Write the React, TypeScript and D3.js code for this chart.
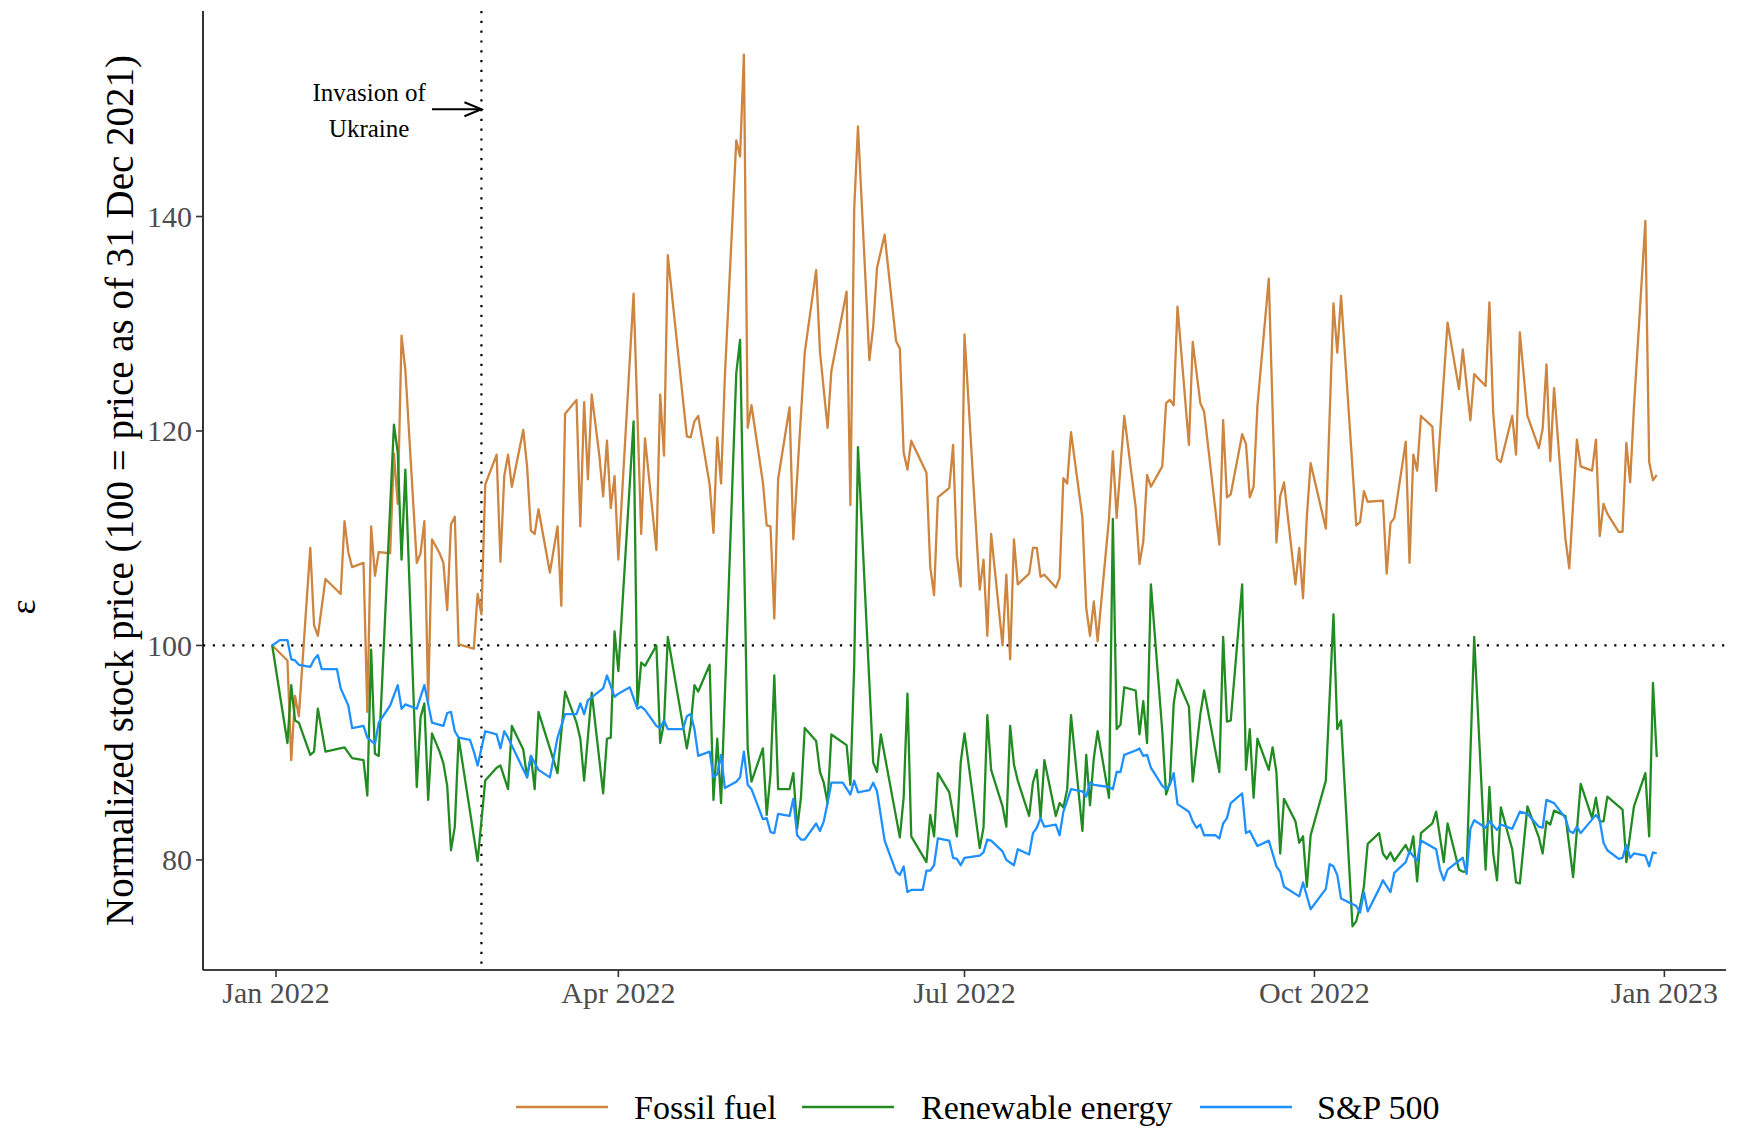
import React from 'react';
import * as d3 from 'd3';

// Day offsets are days since 2022-01-01; values are normalized prices (100 = 31 Dec 2021)
const fossilDays = [-1,3,4,5,6,9,10,11,13,17,18,19,20,23,24,25,26,27,30,31,32,33,34,37,38,39,40,41,43,44,45,46,47,48,52,53,54,55,58,59,60,61,62,65,66,67,68,69,72,74,75,76,79,80,81,82,83,85,86,87,88,89,90,94,96,97,100,101,102,103,108,109,110,111,114,115,116,117,118,121,122,123,124,125,128,129,130,131,132,135,136,139,142,143,145,146,150,151,152,153,156,157,158,160,163,164,165,166,167,171,172,173,174,177,178,179,180,181,185,186,187,188,191,192,193,194,195,198,199,200,201,202,205,206,207,208,209,212,213,214,215,216,219,220,221,223,226,227,228,229,230,233,234,235,236,237,240,241,243,244,248,249,250,251,254,255,256,257,258,261,263,264,265,268,269,270,271,272,276,278,279,280,284,285,286,287,291,292,293,294,297,298,299,300,301,304,305,308,311,312,314,315,318,319,320,321,322,325,326,327,329,332,333,334,335,336,339,340,342,343,346,347,348,349,350,353,354,355,356,357,360,361,362,363];
const fossilValues = [100,98.6,89.3,95.3,93.4,109.1,101.9,100.9,106.2,104.8,111.6,108.7,107.3,107.7,93.8,111.1,106.5,108.7,108.6,117.9,113.2,128.9,125.7,107.7,108.6,111.6,94.8,109.9,108.6,107.7,103.3,111.3,112.0,100.1,99.7,104.8,102.9,115.0,117.8,107.8,115.8,117.8,114.8,120.1,116.7,110.7,110.4,112.7,106.8,111.1,103.7,121.6,122.9,111.1,122.7,115.5,123.4,117.7,113.9,119.1,112.8,115.8,108.0,132.8,110.4,119.3,108.9,123.4,117.7,136.4,119.5,119.4,120.9,121.4,115.0,110.5,119.4,115.1,125.1,147.1,145.6,155.1,120.3,122.4,115.2,111.2,111.1,102.5,115.5,122.2,109.9,127.3,135.0,127.4,120.3,125.6,133.0,113.1,140.7,148.4,126.6,129.7,135.2,138.3,128.4,127.7,118.0,116.4,119.1,116.1,107.3,104.7,113.8,114.7,118.7,108.4,105.5,129.0,105.2,108.0,100.9,110.4,100.0,106.6,98.7,109.9,105.7,106.7,109.1,109.1,106.4,106.6,105.4,106.3,115.6,115.1,119.9,111.9,103.5,100.9,104.1,100.4,111.9,118.1,111.9,121.4,112.9,107.6,109.7,115.9,114.8,116.7,122.6,122.9,122.4,131.6,118.7,128.3,122.6,121.8,109.4,121.0,113.8,114.1,119.7,118.8,113.8,114.8,122.3,134.2,109.6,113.9,115.2,105.7,109.1,104.4,112.0,117.0,110.9,131.9,127.3,132.6,111.2,111.5,114.4,113.4,113.5,106.7,111.4,111.9,119.0,107.7,117.8,116.3,121.4,120.4,114.4,130.1,123.9,127.6,121.0,125.3,124.2,132.0,121.7,117.4,117.1,121.4,117.8,129.2,121.4,118.4,120.2,126.2,117.2,124.0,109.9,107.2,119.2,116.7,116.3,119.2,110.2,113.2,112.3,110.6,110.6,118.9,115.2,122.2,139.6,117.1,115.4,115.9];

const renewableDays = [-1,3,4,5,6,9,10,11,13,18,20,23,24,25,26,27,31,32,33,34,37,38,39,40,41,43,44,45,46,47,48,53,55,58,59,61,62,65,66,67,68,69,72,74,76,79,80,81,83,86,87,88,89,90,94,95,96,97,100,101,102,103,108,109,110,111,114,115,116,117,121,122,124,125,128,129,130,131,132,135,136,137,138,139,142,143,144,145,146,150,151,152,153,157,158,159,164,165,166,167,171,172,173,174,177,179,180,181,185,186,187,188,191,192,193,194,195,198,199,200,201,202,205,206,207,208,209,212,213,214,215,216,219,220,221,222,223,226,227,228,229,230,233,234,235,236,237,240,241,243,244,248,249,250,251,254,255,256,257,258,261,262,263,264,265,268,269,270,271,272,276,278,279,280,283,284,285,286,287,290,291,292,293,294,297,298,299,300,301,304,305,307,308,311,312,313,315,318,319,320,321,322,325,326,327,329,332,333,334,335,336,339,340,341,343,346,347,348,349,350,354,355,357,360,361,362,363];
const renewableValues = [100,90.9,96.3,93.0,92.8,89.8,90.1,94.1,90.1,90.5,89.5,89.3,86.0,99.6,89.9,89.7,120.6,118.0,108.0,116.4,86.8,93.3,94.6,85.6,91.8,90.1,89.0,86.9,80.9,83.1,91.4,79.9,87.4,88.6,88.8,86.6,92.5,90.3,87.7,89.7,86.6,93.8,90.4,88.1,95.7,92.8,91.3,87.4,95.6,86.2,91.3,91.4,101.3,97.6,120.9,94.4,98.4,98.1,100.0,90.9,92.8,100.8,90.4,92.5,96.3,95.7,98.2,85.6,91.3,85.3,125.4,128.5,90.4,87.3,90.4,84.2,88.0,97.2,86.6,86.6,88.1,82.9,85.8,92.3,91.1,88.2,87.2,85.3,91.7,90.7,87.0,98.1,118.5,89.1,88.2,91.7,82.1,85.8,95.5,82.2,79.8,84.2,82.2,88.1,86.3,82.2,89.1,91.8,81.1,83.0,93.5,88.4,85.0,83.1,92.5,88.9,87.4,84.1,87.2,88.4,83.9,89.3,84.1,85.3,84.9,86.6,93.5,82.7,89.8,85.1,89.5,92.0,85.8,111.8,92.2,92.6,96.1,95.8,91.7,94.8,90.9,105.7,92.0,86.1,87.2,94.6,96.8,94.3,87.3,93.6,95.8,88.2,100.8,92.9,93.0,105.7,88.4,92.2,85.8,91.3,88.4,90.5,88.2,80.6,85.7,83.6,81.6,82.2,77.5,82.3,87.4,102.9,92.2,93.0,73.8,74.3,75.7,77.5,81.5,82.5,80.6,80.1,80.7,79.9,81.4,80.6,82.2,78.0,82.5,83.4,84.5,79.8,83.4,79.1,78.9,78.9,100.8,79.1,86.8,80.6,78.1,84.9,81.0,77.9,77.8,85.0,82.1,80.6,83.6,83.3,84.6,84.1,81.3,78.4,87.1,83.9,85.8,83.6,83.6,85.9,84.7,79.8,85.0,88.1,82.2,96.5,89.6];

const spDays = [-1,1,3,4,5,6,9,10,11,12,16,17,19,20,23,24,26,27,30,32,33,34,37,39,41,44,45,46,47,48,51,52,53,55,58,59,60,61,66,67,69,72,74,76,79,80,81,82,86,87,89,90,93,95,96,97,100,101,102,103,107,108,109,110,111,114,115,116,117,118,121,122,123,124,125,128,129,130,131,132,135,136,137,138,139,142,143,144,145,146,149,151,152,153,156,157,158,160,163,164,165,166,167,170,171,172,173,174,177,178,179,180,181,185,186,187,188,191,192,194,195,198,199,200,201,202,205,206,207,209,212,213,214,215,219,220,221,222,223,226,227,228,229,230,233,234,235,236,237,240,241,242,243,244,247,248,249,250,251,254,255,256,258,261,263,264,265,269,270,272,276,277,278,279,280,284,285,286,287,290,291,293,294,297,298,300,301,305,306,307,308,312,313,314,315,318,319,321,322,325,327,329,332,333,334,336,339,340,341,342,343,347,348,349,350,353,354,355,356,357,360,361,362,363];
const spValues = [100,100.5,100.5,98.7,98.6,98.2,98.0,98.7,99.1,97.8,97.8,96.0,94.4,92.3,92.5,91.4,90.8,92.8,94.4,96.3,94.1,94.5,94.1,96.3,92.8,92.5,93.7,93.8,92.0,91.4,91.2,90.1,88.8,92.0,91.7,90.4,92.0,91.4,87.7,89.7,88.4,87.7,91.4,93.6,93.6,94.6,93.6,94.9,96.0,97.2,95.2,95.5,96.1,94.1,94.3,94.0,92.5,92.3,93.0,92.2,92.2,93.4,93.6,92.2,89.7,90.1,87.7,88.0,89.8,86.7,87.3,87.7,90.1,87.0,86.6,83.8,83.9,82.6,82.5,84.3,84.1,85.7,82.3,81.9,81.9,83.4,82.7,83.6,85.3,87.2,87.2,86.1,87.4,86.3,86.5,87.2,86.4,81.8,78.9,78.6,79.4,77.0,77.2,77.2,79.0,79.0,79.5,82.0,81.8,80.2,80.1,79.5,80.2,80.4,80.7,81.9,81.8,80.8,80.0,79.5,81.0,80.5,82.5,83.0,83.9,83.1,83.3,82.3,84.5,86.6,86.4,85.9,87.2,87.0,86.8,86.6,88.2,88.2,89.8,90.2,90.4,89.7,89.8,88.6,86.9,86.6,87.0,88.1,85.2,84.5,83.6,83.0,83.3,82.3,82.3,82.0,83.4,83.9,85.3,86.2,82.5,82.7,81.3,81.8,79.4,78.9,77.5,76.6,77.9,75.4,77.3,79.6,79.4,78.6,76.4,75.7,75.1,77.0,75.2,77.3,78.1,77.0,78.8,79.8,80.8,79.9,81.8,81.0,79.1,78.1,79.1,80.2,78.7,82.9,83.7,83.0,83.6,82.8,83.3,82.9,84.5,84.3,83.1,83.0,85.6,85.3,83.9,82.7,82.5,83.1,82.5,84.2,83.7,81.6,80.9,80.1,80.2,81.4,80.2,80.6,80.4,79.4,80.7,80.6];

const seriesNames = ['Fossil fuel', 'Renewable energy', 'S&P 500'];
const seriesColors = ['#CD853F', '#228B22', '#1E90FF'];
const yTickValues = [80, 100, 120, 140];
const xTickDates = ['2022-01-01', '2022-04-01', '2022-07-01', '2022-10-01', '2023-01-01'];
const referenceValue = 100;
const invasionDate = '2022-02-24';
const annotationLines = ['Invasion of', 'Ukraine'];
const annotationDate = '2022-01-26';
const annotationValue = 150;
const arrowStartDate = '2022-02-11';
const yAxisTitle = 'Normalized stock price (100 = price as of 31 Dec 2021)';
const sideLabel = 'ε';

const W = 1738;
const H = 1130;
const panel = { left: 203, right: 1726, top: 11, bottom: 970 };
const FONT = '"Liberation Serif", "Times New Roman", serif';

const baseDate = new Date(2022, 0, 1);
const parse = d3.timeParse('%Y-%m-%d');
const dayToDate = (d: number) => d3.timeDay.offset(baseDate, d);

export default function App() {
  const seriesDays = [fossilDays, renewableDays, spDays];
  const seriesVals = [fossilValues, renewableValues, spValues];
  const series = seriesNames.map((name, i) => ({
    name,
    color: seriesColors[i],
    points: seriesDays[i].map((d, j) => ({ date: dayToDate(d), value: seriesVals[i][j] })),
  }));

  const allDates = series.flatMap((s) => s.points.map((p) => p.date.getTime()));
  const allVals = series.flatMap((s) => s.points.map((p) => p.value));
  const [tMin, tMax] = d3.extent(allDates) as [number, number];
  const [vMin, vMax] = d3.extent(allVals) as [number, number];
  const tPad = (tMax - tMin) * 0.05;
  const vPad = (vMax - vMin) * 0.05;

  const x = d3.scaleTime().domain([new Date(tMin - tPad), new Date(tMax + tPad)]).range([panel.left, panel.right]);
  const y = d3.scaleLinear().domain([vMin - vPad, vMax + vPad]).range([panel.bottom, panel.top]);

  const line = d3
    .line<{ date: Date; value: number }>()
    .x((d) => x(d.date))
    .y((d) => y(d.value));

  const fmt = d3.timeFormat('%b %Y');
  const invX = x(parse(invasionDate)!);
  const annX = x(parse(annotationDate)!);
  const annY = y(annotationValue);
  const arrX0 = x(parse(arrowStartDate)!);
  const arrX1 = invX;

  const legendItems = [
    { keyX: 516, textX: 634 },
    { keyX: 802, textX: 921 },
    { keyX: 1200, textX: 1317 },
  ];
  const legendY = 1107;

  return (
    <svg width={W} height={H} style={{ position: 'absolute', left: 0, top: 0, display: 'block', background: '#fff' }} fontFamily={FONT}>
      <rect x={0} y={0} width={W} height={H} fill="#fff" />
      {/* reference lines */}
      <line x1={panel.left} x2={panel.right} y1={y(referenceValue)} y2={y(referenceValue)} stroke="#000" strokeWidth={2.2} strokeDasharray="2.2 7.6" />
      <line x1={invX} x2={invX} y1={panel.top} y2={panel.bottom} stroke="#000" strokeWidth={2.2} strokeDasharray="2.2 7.6" />

      {/* series */}
      {series.map((s) => (
        <path key={s.name} d={line(s.points) || ''} fill="none" stroke={s.color} strokeWidth={2.3} strokeLinejoin="round" />
      ))}

      {/* annotation */}
      <text x={annX - 2} y={annY - 8} textAnchor="middle" fontSize={25} fill="#000">{annotationLines[0]}</text>
      <text x={annX - 2} y={annY + 28} textAnchor="middle" fontSize={25} fill="#000">{annotationLines[1]}</text>
      <line x1={arrX0} x2={arrX1} y1={annY} y2={annY} stroke="#000" strokeWidth={2} />
      <polyline points={`${arrX1 - 17},${annY - 7} ${arrX1},${annY} ${arrX1 - 17},${annY + 7}`} fill="none" stroke="#000" strokeWidth={2} />

      {/* axes */}
      <line x1={panel.left} x2={panel.left} y1={panel.top} y2={panel.bottom} stroke="#000" strokeWidth={1.6} />
      <line x1={panel.left} x2={panel.right} y1={panel.bottom} y2={panel.bottom} stroke="#000" strokeWidth={1.6} />
      {yTickValues.map((v) => (
        <g key={v}>
          <line x1={panel.left - 7} x2={panel.left} y1={y(v)} y2={y(v)} stroke="#333" strokeWidth={1.6} />
          <text x={panel.left - 11} y={y(v)} textAnchor="end" dominantBaseline="central" fontSize={30} fill="#4D4D4D">{v}</text>
        </g>
      ))}
      {xTickDates.map((ds) => {
        const d = parse(ds)!;
        return (
          <g key={ds}>
            <line x1={x(d)} x2={x(d)} y1={panel.bottom} y2={panel.bottom + 7} stroke="#333" strokeWidth={1.6} />
            <text x={x(d)} y={1003} textAnchor="middle" fontSize={30} fill="#4D4D4D">{fmt(d)}</text>
          </g>
        );
      })}

      {/* axis titles */}
      <text transform={`translate(119, ${(panel.top + panel.bottom) / 2}) rotate(-90)`} textAnchor="middle" dominantBaseline="central" fontSize={39} fill="#000">{yAxisTitle}</text>
      <text transform={`translate(23, 607) rotate(-90)`} textAnchor="middle" dominantBaseline="central" fontSize={36} fill="#000">{sideLabel}</text>

      {/* legend */}
      {series.map((s, i) => (
        <g key={s.name}>
          <line x1={legendItems[i].keyX} x2={legendItems[i].keyX + 92} y1={legendY} y2={legendY} stroke={s.color} strokeWidth={2.5} />
          <text x={legendItems[i].textX} y={legendY} dominantBaseline="central" fontSize={34} fill="#000">{s.name}</text>
        </g>
      ))}
    </svg>
  );
}
